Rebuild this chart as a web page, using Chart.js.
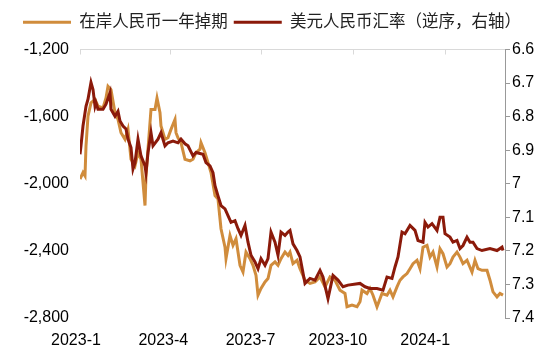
<!DOCTYPE html>
<html>
<head>
<meta charset="utf-8">
<script src="https://cdn.jsdelivr.net/npm/chart.js@4.4.1/dist/chart.umd.min.js"></script>
<style>
  html, body { margin: 0; padding: 0; background: #fff; }
  #wrap { width: 544px; height: 352px; }
</style>
</head>
<body>
<div id="wrap"><canvas id="fxChart" width="544" height="352"></canvas></div>
<script>
// x positions are days counted from 2023-01-01
const tickDays   = [0, 90, 181, 273, 365];
const tickLabels = ["2023-1", "2023-4", "2023-7", "2023-10", "2024-1"];

// 在岸人民币一年掉期 (left axis)
const swapDays = [0,3,5,6,8,11,15,18,23,26, 28,31,35,38,41,45,48,51,55,58,
  61,65,66,68,71,75,77,80,81,85, 88,91,95,96,98,101,105,110,113,116,
  120,121,125,128,131,135,138,141,145,146, 150,153,156,160,163,166,170,173,176,178,
  181,185,188,191,195,198,201,205,208,210, 213,217,220,225,230,235,240,245,250,255,
  260,265,267,272,277,280,282,287,290,293, 297,302,307,310,313,317,320,323,327,330,
  333,337,340,343,347,350,353,357,360,363, 367,370,373,377,380,383,387,392,395,398,
  402,407,410,413,417,420,423];
const swapVals = [-1972,-1933,-1953,-1775,-1597,-1518,-1498,-1538,-1548,-1489,
  -1419,-1439,-1577,-1617,-1696,-1735,-1676,-1854,-1893,-1815,
  -1854,-2130,-1953,-1794,-1557,-1557,-1489,-1577,-1656,-1735,
  -1726,-1676,-1617,-1696,-1726,-1755,-1854,-1864,-1854,-1815,
  -1794,-1755,-1815,-1874,-1933,-2071,-2091,-2268,-2378,-2446,
  -2308,-2367,-2328,-2486,-2526,-2407,-2446,-2486,-2545,-2664,
  -2624,-2585,-2565,-2486,-2466,-2486,-2446,-2407,-2427,-2407,
  -2476,-2456,-2506,-2575,-2594,-2585,-2555,-2615,-2555,-2575,
  -2634,-2654,-2733,-2723,-2733,-2703,-2634,-2654,-2624,-2664,
  -2733,-2654,-2664,-2634,-2674,-2615,-2575,-2555,-2535,-2506,
  -2476,-2456,-2506,-2378,-2367,-2437,-2407,-2496,-2387,-2417,
  -2496,-2476,-2437,-2407,-2437,-2476,-2456,-2526,-2456,-2506,
  -2516,-2516,-2575,-2644,-2674,-2654,-2664];

// 美元人民币汇率 (right axis, reversed)
const fxDays = [0,1,3,6,8,11,13,15,16,18, 23,26,30,31,35,38,40,43,46,48,
  51,53,55,58,61,65,66,68,71,73, 78,81,85,88,93,98,101,105,108,113,
  116,123,126,130,133,135,138,141,145,148, 151,155,158,161,165,168,171,175,178,181,
  185,188,191,195,198,201,205,208,210,213, 217,220,225,230,235,240,243,248,253,258,
  263,268,280,285,290,297,303,307,312,315, 318,322,325,330,335,338,343,345,348,352,
  357,360,363,365,370,373,377,380,383,387, 390,393,397,402,410,417,422,423];
const fxVals = [6.912,6.887,6.828,6.769,6.748,6.698,6.719,6.769,6.759,6.778,
  6.778,6.763,6.729,6.778,6.799,6.784,6.813,6.828,6.837,6.867,
  6.892,6.956,6.937,6.867,6.917,6.947,6.967,6.907,6.848,6.887,
  6.867,6.848,6.887,6.878,6.873,6.878,6.867,6.881,6.887,6.917,
  6.907,6.912,6.937,6.947,6.967,7.006,7.036,7.065,7.075,7.095,
  7.115,7.110,7.134,7.154,7.124,7.174,7.213,7.233,7.253,7.223,
  7.243,7.223,7.144,7.174,7.213,7.144,7.154,7.144,7.139,7.179,
  7.199,7.218,7.297,7.282,7.287,7.258,7.278,7.342,7.273,7.287,
  7.307,7.302,7.297,7.307,7.312,7.312,7.317,7.278,7.282,7.248,
  7.218,7.144,7.149,7.124,7.139,7.169,7.174,7.115,7.129,7.119,
  7.139,7.100,7.100,7.149,7.159,7.174,7.169,7.193,7.184,7.159,
  7.174,7.174,7.193,7.199,7.193,7.199,7.189,7.199];

const ORANGE = "#D08C3C";
const RED    = "#8B1A0A";

Chart.defaults.font.family = "'Liberation Sans', Arial, 'Noto Sans CJK SC', sans-serif";
Chart.defaults.font.size = 16;
Chart.defaults.color = "#000";

const pairs = (xs, ys) => xs.map((x, i) => ({ x: x, y: ys[i] }));

// little tick marks hanging down from the top axis line
const topTicks = {
  id: "topTicks",
  beforeDatasetsDraw(chart) {
    const sx = chart.scales.x, top = chart.chartArea.top, c = chart.ctx;
    c.save();
    c.strokeStyle = "#d9d9d9";
    c.lineWidth = 1;
    tickDays.forEach(d => {
      const px = Math.round(sx.getPixelForValue(d)) + 0.5;
      c.beginPath();
      c.moveTo(px, top);
      c.lineTo(px, top + 5);
      c.stroke();
    });
    c.restore();
  }
};

new Chart(document.getElementById("fxChart"), {
  type: "line",
  data: {
    datasets: [
      {
        label: "在岸人民币一年掉期",
        data: pairs(swapDays, swapVals),
        borderColor: ORANGE,
        backgroundColor: ORANGE,
        borderWidth: 3,
        pointRadius: 0,
        tension: 0,
        yAxisID: "y",
        order: 1
      },
      {
        label: "美元人民币汇率（逆序，右轴）",
        data: pairs(fxDays, fxVals),
        borderColor: RED,
        backgroundColor: RED,
        borderWidth: 3,
        pointRadius: 0,
        tension: 0,
        yAxisID: "y1",
        order: 0
      }
    ]
  },
  options: {
    responsive: false,
    animation: false,
    layout: { padding: { top: 8, left: 0, right: 0, bottom: 0 } },
    plugins: {
      tooltip: { enabled: false },
      legend: {
        position: "top",
        labels: {
          boxWidth: 48,
          boxHeight: 3,
          padding: 6,
          color: "#222",
          font: { size: 16.5 },
          generateLabels(chart) {
            const items = Chart.defaults.plugins.legend.labels.generateLabels(chart);
            items.forEach(it => { it.lineWidth = 0; });
            return items.sort((a, b) => a.datasetIndex - b.datasetIndex);
          }
        }
      }
    },
    scales: {
      x: {
        type: "linear",
        position: "top",
        min: 0,
        max: 425,
        afterBuildTicks: s => { s.ticks = tickDays.map(v => ({ value: v })); },
        ticks: { display: false },
        grid: { drawOnChartArea: false, drawTicks: false },
        border: { color: "#d9d9d9", width: 1 },
        afterFit: s => { s.height = 9; }
      },
      xl: {
        type: "linear",
        position: "bottom",
        min: 0.046,
        max: 4.914,
        afterBuildTicks: s => { s.ticks = tickLabels.map((t, i) => ({ value: i })); },
        ticks: {
          autoSkip: false,
          maxRotation: 0,
          padding: 13,
          callback: (v, i) => tickLabels[i]
        },
        grid: { display: false, drawTicks: false },
        border: { display: false },
        afterFit: s => { s.height = 34; }
      },
      y: {
        position: "left",
        min: -2800,
        max: -1200,
        ticks: {
          stepSize: 400,
          padding: 11,
          callback: v => v.toLocaleString("en-US")
        },
        grid: { display: false, drawTicks: false },
        border: { display: false },
        afterFit: s => { s.width = 80; }
      },
      y1: {
        position: "right",
        reverse: true,
        min: 6.6,
        max: 7.4,
        ticks: {
          stepSize: 0.1,
          padding: 2,
          callback: v => String(Number(v.toFixed(1)))
        },
        grid: { drawOnChartArea: false, drawTicks: true, tickLength: 5, color: "#999" },
        border: { color: "#999", width: 1 },
        afterFit: s => { s.width = 39; }
      }
    }
  },
  plugins: [topTicks]
});
</script>
</body>
</html>
